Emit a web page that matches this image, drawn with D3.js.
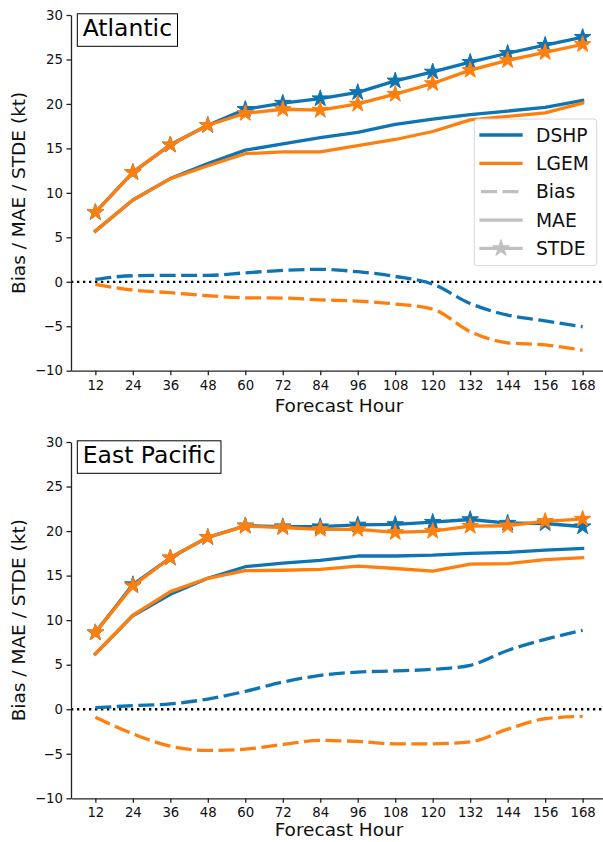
<!DOCTYPE html>
<html>
<head>
<meta charset="utf-8">
<script src="https://cdn.jsdelivr.net/npm/d3@7"></script>
<style>
  html, body { margin: 0; padding: 0; background: #fff; }
  svg { display: block; font-family: "DejaVu Sans", sans-serif; }
</style>
</head>
<body>
<svg id="chart" width="603" height="842"></svg>
<script>
// ---------- data ----------
const hours = [12, 24, 36, 48, 60, 72, 84, 96, 108, 120, 132, 144, 156, 168];
const yTicks = [-10, -5, 0, 5, 10, 15, 20, 25, 30];
const models = ["DSHP", "LGEM"];
const metrics = ["Bias", "MAE", "STDE"];

// Atlantic
const atlDshpBias = [0.27, 0.68, 0.72, 0.72, 1.0, 1.28, 1.4, 1.13, 0.6, -0.26, -2.44, -3.75, -4.4, -5.06];
const atlDshpMae  = [5.7, 9.2, 11.6, 13.3, 14.8, 15.5, 16.2, 16.8, 17.7, 18.3, 18.8, 19.2, 19.6, 20.4];
const atlDshpStde = [7.8, 12.3, 15.4, 17.6, 19.4, 20.1, 20.6, 21.3, 22.6, 23.6, 24.7, 25.7, 26.6, 27.5];
const atlLgemBias = [-0.3, -0.93, -1.23, -1.57, -1.8, -1.83, -2.03, -2.17, -2.5, -3.07, -5.6, -6.86, -7.1, -7.7];
const atlLgemMae  = [5.7, 9.2, 11.6, 13.05, 14.4, 14.6, 14.6, 15.3, 16.0, 16.9, 18.2, 18.6, 19.0, 20.1];
const atlLgemStde = [7.8, 12.3, 15.4, 17.6, 18.95, 19.4, 19.3, 20.0, 21.1, 22.3, 23.8, 24.9, 25.8, 26.7];

// East Pacific
const epDshpBias = [0.17, 0.4, 0.6, 1.14, 2.0, 3.05, 3.8, 4.17, 4.3, 4.48, 4.93, 6.6, 7.85, 8.86];
const epDshpMae  = [6.2, 10.5, 12.9, 14.7, 16.0, 16.4, 16.7, 17.2, 17.2, 17.3, 17.5, 17.6, 17.86, 18.05];
const epDshpStde = [8.6, 14.0, 17.0, 19.3, 20.6, 20.5, 20.5, 20.7, 20.75, 21.0, 21.3, 20.9, 20.85, 20.5];
const epLgemBias = [-0.89, -2.76, -4.15, -4.63, -4.49, -3.96, -3.5, -3.62, -3.88, -3.88, -3.66, -2.24, -1.07, -0.81];
const epLgemMae  = [6.2, 10.55, 13.2, 14.7, 15.55, 15.6, 15.7, 16.06, 15.8, 15.5, 16.3, 16.35, 16.8, 17.0];
const epLgemStde = [8.6, 13.85, 17.0, 19.3, 20.56, 20.4, 20.2, 20.2, 19.85, 20.0, 20.56, 20.6, 21.1, 21.35];

const colors = { DSHP: "#0e74b4", LGEM: "#ff7f0e" };
const gray = "#c0c0c0";

// ---------- drawing ----------
const svg = d3.select("#chart");
const LW = 3.3;
const DASH = "16,5.5";
const starSize = 85;

const x = d3.scaleLinear().domain([4.2, 175.8]).range([71, 607]);

function drawPanel(cfg) {
  const y = d3.scaleLinear().domain([-10, 30]).range([cfg.bottom, cfg.top]);
  const g = svg.append("g");

  // zero line
  g.append("line")
    .attr("x1", x.range()[0]).attr("x2", x.range()[1])
    .attr("y1", y(0)).attr("y2", y(0))
    .attr("stroke", "#000").attr("stroke-width", 2.3)
    .attr("stroke-dasharray", "2.3,3.7");

  const lineStraight = d3.line().x((d, i) => x(hours[i])).y(d => y(d));
  const lineSmooth = d3.line().x((d, i) => x(hours[i])).y(d => y(d)).curve(d3.curveMonotoneX);

  cfg.series.forEach(s => {
    const c = colors[s.model];
    g.append("path").datum(s.bias)
      .attr("d", lineSmooth).attr("fill", "none")
      .attr("stroke", c).attr("stroke-width", LW)
      .attr("stroke-dasharray", DASH).attr("stroke-linecap", "butt");
    g.append("path").datum(s.mae)
      .attr("d", lineStraight).attr("fill", "none")
      .attr("stroke", c).attr("stroke-width", LW)
      .attr("stroke-linejoin", "round").attr("stroke-linecap", "square");
    g.append("path").datum(s.stde)
      .attr("d", lineStraight).attr("fill", "none")
      .attr("stroke", c).attr("stroke-width", LW)
      .attr("stroke-linejoin", "round").attr("stroke-linecap", "square");
    g.selectAll(null).data(s.stde).enter().append("path")
      .attr("d", d3.symbol(d3.symbolStar, starSize))
      .attr("transform", (d, i) => `translate(${x(hours[i])},${y(d)})`)
      .attr("fill", c).attr("stroke", c).attr("stroke-width", 1);
  });

  // axes
  const xAxis = d3.axisBottom(x).tickValues(hours).tickSize(4.5).tickPadding(5).tickSizeOuter(0);
  const gx = g.append("g").attr("transform", `translate(0,${cfg.bottom})`).call(xAxis);
  const yAxis = d3.axisLeft(y).tickValues(yTicks).tickSize(4.5).tickPadding(3.5).tickSizeOuter(0);
  const gy = g.append("g").attr("transform", `translate(71,0)`).call(yAxis);
  [gx, gy].forEach(a => {
    a.selectAll("path.domain").attr("stroke", "#222").attr("stroke-width", 1.3);
    a.selectAll(".tick line").attr("stroke", "#222").attr("stroke-width", 1.3);
    a.selectAll("text").attr("font-size", 13.3).attr("fill", "#111")
      .attr("font-family", "DejaVu Sans, sans-serif");
  });

  // axis labels
  g.append("text")
    .attr("x", x((4.2 + 175.8) / 2)).attr("y", cfg.bottom + cfg.xlabOff)
    .attr("text-anchor", "middle").attr("font-size", 18.5).attr("fill", "#111")
    .text("Forecast Hour");
  g.append("text")
    .attr("transform", `translate(25,${(cfg.top + cfg.bottom) / 2}) rotate(-90)`)
    .attr("text-anchor", "middle").attr("font-size", 18.5).attr("fill", "#111")
    .text("Bias / MAE / STDE (kt)");

  // title box
  const rect = g.append("rect");
  const t = g.append("text")
    .attr("x", 82.7).attr("y", cfg.top + cfg.titleBase)
    .attr("font-size", 23.5).attr("fill", "#000")
    .text(cfg.title);
  const bb = t.node().getBBox();
  rect.attr("x", 77.3).attr("y", cfg.top - 1.2)
    .attr("width", bb.width + 10.8).attr("height", 32.5)
    .attr("fill", "#fff").attr("stroke", "#000").attr("stroke-width", 1);
  return y;
}

drawPanel({
  title: "Atlantic", top: 15, bottom: 370.7, titleBase: 21, xlabOff: 41,
  series: [
    { model: "DSHP", bias: atlDshpBias, mae: atlDshpMae, stde: atlDshpStde },
    { model: "LGEM", bias: atlLgemBias, mae: atlLgemMae, stde: atlLgemStde }
  ]
});
drawPanel({
  title: "East Pacific", top: 442, bottom: 798.3, titleBase: 21.3, xlabOff: 38,
  series: [
    { model: "DSHP", bias: epDshpBias, mae: epDshpMae, stde: epDshpStde },
    { model: "LGEM", bias: epLgemBias, mae: epLgemMae, stde: epLgemStde }
  ]
});

// ---------- legend ----------
const leg = svg.append("g");
leg.append("rect")
  .attr("x", 474.3).attr("y", 119).attr("width", 122.4).attr("height", 146.7)
  .attr("rx", 3).attr("fill", "#fff").attr("fill-opacity", 0.85)
  .attr("stroke", "#d6d6d6").attr("stroke-width", 1);
const legendItems = [
  { label: models[0], color: colors.DSHP, dash: null, star: false },
  { label: models[1], color: colors.LGEM, dash: null, star: false },
  { label: metrics[0], color: gray, dash: DASH, star: false },
  { label: metrics[1], color: gray, dash: null, star: false },
  { label: metrics[2], color: gray, dash: null, star: true }
];
legendItems.forEach((it, i) => {
  const cy = 135 + i * 28.35;
  leg.append("line")
    .attr("x1", 481).attr("x2", 521).attr("y1", cy).attr("y2", cy)
    .attr("stroke", it.color).attr("stroke-width", LW)
    .attr("stroke-dasharray", it.dash).attr("stroke-linecap", it.dash ? "butt" : "square");
  if (it.star) {
    leg.append("path").attr("d", d3.symbol(d3.symbolStar, starSize))
      .attr("transform", `translate(501,${cy})`)
      .attr("fill", it.color).attr("stroke", it.color).attr("stroke-width", 1);
  }
  leg.append("text")
    .attr("x", 536).attr("y", cy).attr("dy", "0.36em")
    .attr("font-size", 18.7).attr("fill", "#111")
    .text(it.label);
});
</script>
</body>
</html>
